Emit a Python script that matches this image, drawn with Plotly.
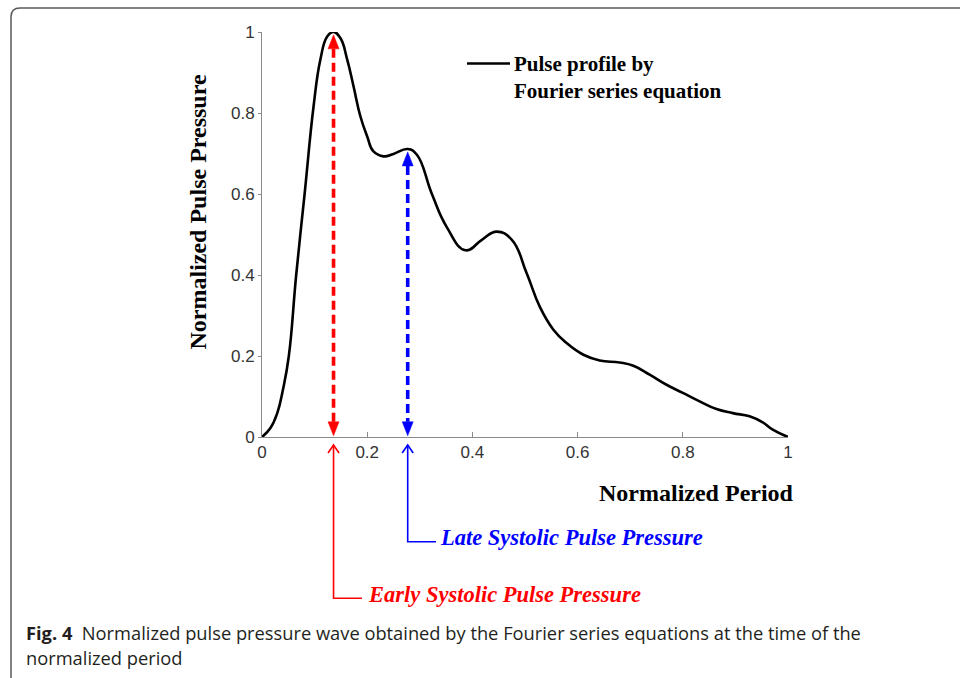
import plotly.graph_objects as go

# ---------------- data ----------------
period = [0.0, 0.016, 0.029, 0.040, 0.051, 0.065, 0.081, 0.098, 0.111, 0.124, 0.136,
          0.149, 0.162, 0.174, 0.187, 0.200, 0.212, 0.231, 0.250, 0.277, 0.2945, 0.323, 0.351,
          0.387, 0.418, 0.446, 0.475, 0.503, 0.528, 0.554, 0.579, 0.611, 0.642, 0.680, 0.706,
          0.737, 0.769, 0.800, 0.832, 0.864, 0.895, 0.927, 0.952, 0.971, 1.0]
pressure = [0.0, 0.022, 0.059, 0.118, 0.200, 0.400, 0.600, 0.816, 0.932, 0.989, 1.0,
            0.985, 0.932, 0.866, 0.792, 0.742, 0.705, 0.693, 0.699, 0.711, 0.697, 0.600, 0.519,
            0.461, 0.487, 0.507, 0.487, 0.405, 0.322, 0.265, 0.232, 0.203, 0.189, 0.184, 0.176,
            0.154, 0.129, 0.109, 0.088, 0.069, 0.059, 0.051, 0.036, 0.018, 0.0]

tick_vals = [0, 0.2, 0.4, 0.6, 0.8, 1.0]
tick_text = ["0", "0.2", "0.4", "0.6", "0.8", "1"]

early_x, early_y = 0.136, 1.0     # early systolic peak
late_x, late_y = 0.277, 0.711     # late systolic peak

legend_label = "Pulse profile by<br>Fourier series equation"
early_label = "Early Systolic Pulse Pressure"
late_label = "Late Systolic Pulse Pressure"
x_title = "Normalized Period"
y_title = "Normalized Pulse Pressure"
caption_bold = "Fig. 4"
caption_line1 = "Normalized pulse pressure wave obtained by the Fourier series equations at the time of the"
caption_line2 = "normalized period"

# ---------------- layout geometry ----------------
W, H = 960, 678
L, R, T, B = 262, 788, 32, 437


def pxx(px):
    return (px - L) / (R - L)


def pxy(py):
    return (B - py) / (B - T)


RED = "#ff0000"
BLUE = "#0000ff"
SERIF = "Liberation Serif"

fig = go.Figure()
fig.add_trace(go.Scatter(x=period, y=pressure, mode="lines",
                         line=dict(color="black", width=2.6, shape="spline", smoothing=1.3),
                         showlegend=False, hoverinfo="skip"))

shapes = []
annotations = []

head_len_y = 14 / (B - T)


def arrowhead(x, y, up=True, color=RED, filled=True, w=5.5, h=14):
    # x axis range [0,1] equals the x domain, so data x == paper x
    s = 1 if up else -1
    if filled:
        path = f"M0,0 L{-w},{-s*h} L{w},{-s*h} Z"
        return dict(type="path", xref="paper", yref="paper", xsizemode="pixel", ysizemode="pixel",
                    xanchor=x, yanchor=y, path=path, fillcolor=color,
                    line=dict(color=color, width=0.5), layer="above")
    path = f"M{-w},{-s*h} L0,0 L{w},{-s*h}"
    return dict(type="path", xref="paper", yref="paper", xsizemode="pixel", ysizemode="pixel",
                xanchor=x, yanchor=y, path=path, line=dict(color=color, width=1.6), layer="above")


for x, ytop, col in [(early_x, early_y, RED), (late_x, late_y, BLUE)]:
    top_tip = ytop - 0.007
    bot_tip = 0.003
    shapes.append(dict(type="line", xref="paper", yref="paper", x0=x, x1=x,
                       y0=top_tip - head_len_y, y1=bot_tip + head_len_y,
                       line=dict(color=col, width=3.6, dash="9px,5px"), layer="above"))
    shapes.append(arrowhead(x, top_tip, up=True, color=col))
    shapes.append(arrowhead(x, bot_tip, up=False, color=col))

# callouts below the axis
for x, elbow_py, end_px, text_px, text_py, col, label in [
        (early_x, 598.3, 362, 366, 594, RED, early_label),
        (late_x, 541.7, 436, 438, 537, BLUE, late_label)]:
    tip_py = 445
    shapes.append(dict(type="path", xref="paper", yref="paper",
                       path=f"M{x},{pxy(tip_py)} L{x},{pxy(elbow_py)} L{pxx(end_px)},{pxy(elbow_py)}",
                       line=dict(color=col, width=1.6), layer="above"))
    shapes.append(arrowhead(x, pxy(tip_py), up=True, color=col, filled=False, w=5.5, h=8))
    annotations.append(dict(x=pxx(text_px), y=pxy(text_py), xref="paper", yref="paper",
                            text=f"<b><i>{label}</i></b>", showarrow=False,
                            xanchor="left", yanchor="middle",
                            font=dict(family=SERIF, size=22.5, color=col)))

# legend
shapes.append(dict(type="line", xref="paper", yref="paper",
                   x0=pxx(467), x1=pxx(510), y0=pxy(63.5), y1=pxy(63.5),
                   line=dict(color="black", width=2.6)))
annotations.append(dict(x=pxx(512), y=pxy(77.5), xref="paper", yref="paper",
                        text=f"<b>{legend_label}</b>", showarrow=False, align="left",
                        xanchor="left", yanchor="middle",
                        font=dict(family=SERIF, size=21, color="black")))

# axis titles
annotations.append(dict(x=pxx(696), y=pxy(493), xref="paper", yref="paper",
                        text=f"<b>{x_title}</b>", showarrow=False,
                        xanchor="center", yanchor="middle",
                        font=dict(family=SERIF, size=24, color="black")))
annotations.append(dict(x=pxx(198), y=pxy(212.5), xref="paper", yref="paper",
                        text=f"<b>{y_title}</b>", showarrow=False, textangle=-90,
                        xanchor="center", yanchor="middle",
                        font=dict(family=SERIF, size=24, color="black")))

# caption
annotations.append(dict(x=pxx(24), y=pxy(632), xref="paper", yref="paper",
                        text=f"<b>{caption_bold}</b>  {caption_line1}", showarrow=False,
                        align="left", xanchor="left", yanchor="middle",
                        font=dict(family="Open Sans", size=18.3, color="#231f20")))
annotations.append(dict(x=pxx(24), y=pxy(657.5), xref="paper", yref="paper",
                        text=caption_line2, showarrow=False,
                        align="left", xanchor="left", yanchor="middle",
                        font=dict(family="Open Sans", size=18.3, color="#231f20")))

# rounded frame
fl, ft, fr, fb, rad = 11, 8, 980, 684, 9
frame_path = (f"M{pxx(fl)},{pxy(fb)} L{pxx(fl)},{pxy(ft + rad)} "
              f"Q{pxx(fl)},{pxy(ft)} {pxx(fl + rad)},{pxy(ft)} L{pxx(fr)},{pxy(ft)}")
shapes.append(dict(type="path", xref="paper", yref="paper", path=frame_path,
                   line=dict(color="#5a5a5a", width=1.5)))

axis_common = dict(range=[0, 1], tickmode="array", tickvals=tick_vals, ticktext=tick_text,
                   showgrid=False, zeroline=False, showline=True, linecolor="#8a8a8a",
                   linewidth=1, tickcolor="#8a8a8a", tickwidth=1,
                   tickfont=dict(family="Arial, Liberation Sans, sans-serif", size=17, color="#333333"))

fig.update_layout(
    width=W, height=H,
    margin=dict(l=L, r=W - R, t=T, b=H - B, pad=0),
    paper_bgcolor="white", plot_bgcolor="white",
    xaxis=dict(**axis_common, ticks="inside", ticklen=5),
    yaxis=dict(**axis_common, ticks="outside", ticklen=3),
    shapes=shapes, annotations=annotations, showlegend=False,
)

fig.write_html("out.html")
